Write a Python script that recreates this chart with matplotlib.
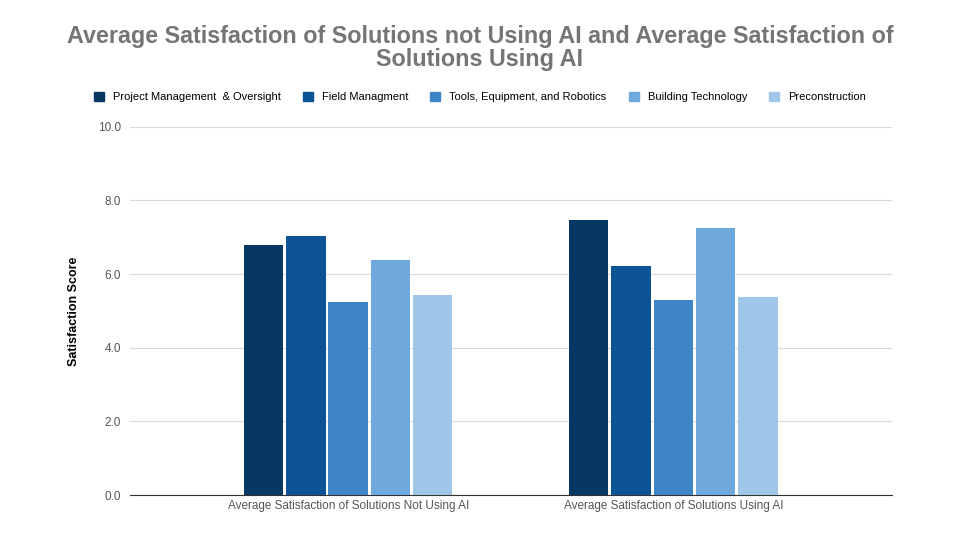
import matplotlib.pyplot as plt
import numpy as np
from matplotlib.patches import Patch

# data
groups = ['Average Satisfaction of Solutions Not Using AI',
          'Average Satisfaction of Solutions Using AI']
series = ['Project Management  & Oversight', 'Field Managment',
          'Tools, Equipment, and Robotics', 'Building Technology',
          'Preconstruction']
pm = [6.78, 7.47]
field = [7.04, 6.22]
tools = [5.24, 5.30]
building = [6.39, 7.26]
precon = [5.42, 5.38]
colors = ['#073763', '#0b5394', '#3d85c6', '#6fa8dc', '#9fc5e8']

plt.rcParams['font.family'] = ['Liberation Sans', 'DejaVu Sans']

fig = plt.figure(figsize=(9.6, 5.4), dpi=100)
ax = fig.add_axes([0.135, 0.0833, 0.794, 0.682])

x = np.arange(len(groups))
w = 0.13
for i, vals in enumerate([pm, field, tools, building, precon]):
    ax.bar(x + (i - 2) * w, vals, width=w - 0.009, color=colors[i], zorder=3)

ax.set_xlim(-0.672, 1.672)
ax.set_ylim(0, 10)
ax.set_yticks([0, 2, 4, 6, 8, 10])
ax.set_yticklabels(['0.0', '2.0', '4.0', '6.0', '8.0', '10.0'])
ax.set_xticks(x)
ax.set_xticklabels(groups)
ax.tick_params(axis='both', length=0, labelsize=8.5, labelcolor='#555555')
ax.tick_params(axis='y', pad=6)
ax.grid(axis='y', color='#d9d9d9', linewidth=0.8, zorder=0)
for s in ['top', 'right', 'left']:
    ax.spines[s].set_visible(False)
ax.spines['bottom'].set_color('#333333')
ax.set_ylabel('Satisfaction Score', fontsize=9, fontweight='bold', labelpad=13)

fig.text(0.5, 0.911, 'Average Satisfaction of Solutions not Using AI and Average Satisfaction of\nSolutions Using AI',
         ha='center', va='center', fontsize=16.8, fontweight='bold', color='#757575',
         linespacing=1.0)

handles = [Patch(color=c) for c in colors]
fig.legend(handles, series, loc='center', bbox_to_anchor=(0.5, 0.82), ncol=5,
           frameon=False, fontsize=8, handlelength=0.9, handleheight=0.9,
           columnspacing=2.0, handletextpad=0.8)

fig.savefig('out.png', dpi=100)
